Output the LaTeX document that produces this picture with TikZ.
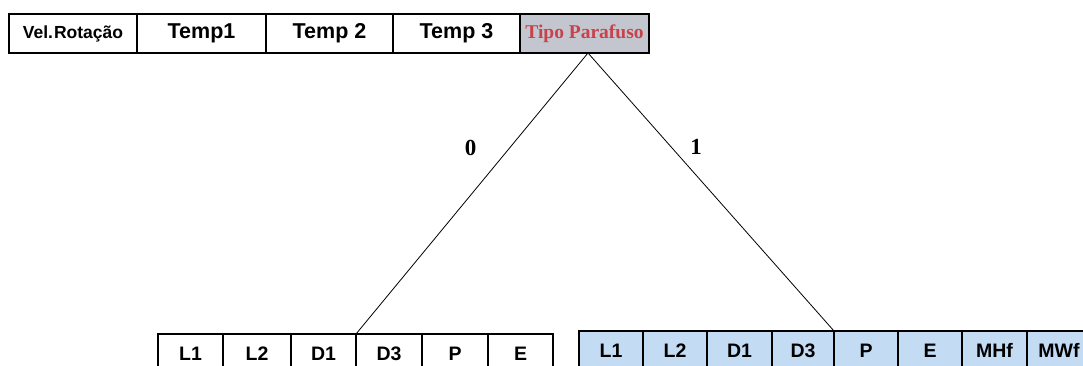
\documentclass[tikz,border=0pt]{standalone}
\usepackage{fontspec}
\usetikzlibrary{calc}
\setmainfont{Liberation Sans}
\newfontfamily\serifb{Liberation Serif}
\definecolor{tipogrey}{HTML}{C3C6CE}
\definecolor{tipored}{HTML}{C8414B}
\definecolor{cellblue}{HTML}{C4DBF4}
\begin{document}
\begin{tikzpicture}[x=1pt,y=1pt,
  cell/.style={draw=black, line width=1.1pt, inner sep=0pt, outer sep=0pt,
    minimum height=39pt, font=\fontsize{21.5}{22}\selectfont\bfseries},
  bcell/.style={cell, anchor=north, text height=27pt, text depth=12pt,
    font=\fontsize{19.5}{20}\selectfont\bfseries},
  bluecell/.style={bcell, fill=cellblue},
  edgelab/.style={font=\serifb\fontsize{23}{23}\selectfont\bfseries, inner sep=0pt},
  branch/.style={line width=0.8pt}]
\useasboundingbox (0,0) rectangle (1083,366);
\clip (0,0) rectangle (1083,366);
% top row
\node[cell, minimum width=128pt, font=\fontsize{17.5}{18}\selectfont\bfseries] (vr) at (73,332.5) {Vel.\kern1pt Rotação};
\node[cell, minimum width=129pt] (t1) at (201.5,332.5) {Temp1};
\node[cell, minimum width=127pt] (t2) at (329.5,332.5) {Temp 2};
\node[cell, minimum width=127pt] (t3) at (456.5,332.5) {Temp 3};
\node[cell, minimum width=129pt, fill=tipogrey, text=tipored,
  font=\serifb\fontsize{19.5}{20}\selectfont\bfseries] (tp) at (584.5,332.5) {Tipo Parafuso};
\coordinate (apex) at ($(tp.south)+(3.5,0)$);
% bottom left row
\node[bcell, minimum width=65pt] (al1) at (190.5,32) {L1};
\node[bcell, minimum width=68pt] (al2) at (257,32) {L2};
\node[bcell, minimum width=65pt] (ad1) at (323.5,32) {D1};
\node[bcell, minimum width=66pt] (ad3) at (389,32) {D3};
\node[bcell, minimum width=66pt] (ap) at (455,32) {P};
\node[bcell, minimum width=65pt] (ae) at (520.5,32) {E};
% bottom right row
\node[bluecell, minimum width=64pt] (bl1) at (611,35) {L1};
\node[bluecell, minimum width=64pt] (bl2) at (675,35) {L2};
\node[bluecell, minimum width=65pt] (bd1) at (739.5,35) {D1};
\node[bluecell, minimum width=62pt] (bd3) at (803,35) {D3};
\node[bluecell, minimum width=64pt] (bp) at (866,35) {P};
\node[bluecell, minimum width=64pt] (be) at (930,35) {E};
\node[bluecell, minimum width=65pt] (bmh) at (994.5,35) {MHf};
\node[bluecell, minimum width=64pt] (bmw) at (1059,35) {MWf};
% branches
\draw[branch] (apex) -- (ad3.north west);
\draw[branch] (apex) -- (bp.north west);
\node[edgelab] (l0) at (470.5,218) {0};
\node[edgelab] (l1) at (696,219) {1};
\end{tikzpicture}
\end{document}
